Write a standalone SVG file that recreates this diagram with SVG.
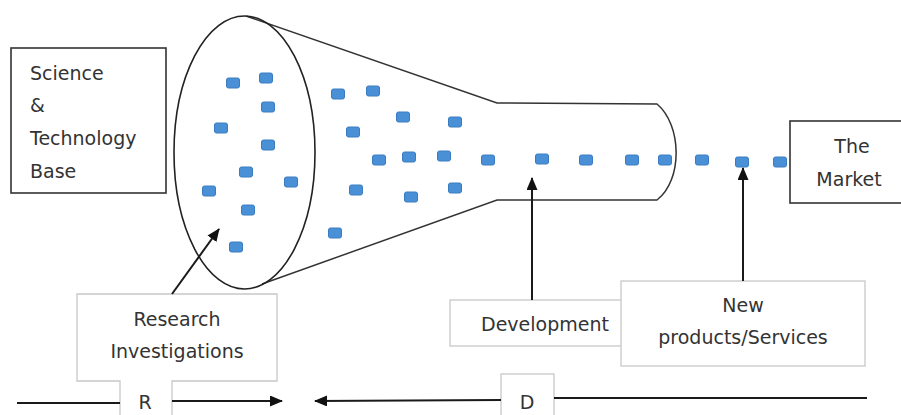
<svg xmlns="http://www.w3.org/2000/svg" width="901" height="415" viewBox="0 0 901 415">
<defs>
<style>
text{font-family:"DejaVu Sans","Liberation Sans",Arial,sans-serif;font-size:19px;fill:#333}
.dark{fill:#fff;stroke:#333;stroke-width:1.6}
.light{fill:#fff;stroke:#c8c8c8;stroke-width:1.3}
.sq{fill:#4a90d6;stroke:#3b7cc0;stroke-width:1}
.fun{fill:none;stroke:#333;stroke-width:1.5}
.con{fill:none;stroke:#1a1a1a;stroke-width:2}
.mid{text-anchor:middle}
</style>
<marker id="ah" markerWidth="13" markerHeight="11" refX="12" refY="5.5" orient="auto" markerUnits="userSpaceOnUse">
<path d="M0,0 L13,5.5 L0,11 Z" fill="#111"/>
</marker>
<rect id="b" width="13" height="10" rx="2" class="sq"/>
</defs>
<rect width="901" height="415" fill="#fff"/>

<g id="funnel">
<path class="fun" d="M246,16 L497,103 L657,104 C682,125 683,180 657,200 L497,200 L262,284"/>
<ellipse cx="244.5" cy="152.5" rx="70.5" ry="136.5" fill="none" stroke="#222" stroke-width="1.6"/>
</g>

<g id="items">
<use href="#b" x="226.5" y="78"/>
<use href="#b" x="259.5" y="73"/>
<use href="#b" x="261.5" y="102"/>
<use href="#b" x="214.5" y="123"/>
<use href="#b" x="261.5" y="140"/>
<use href="#b" x="239.5" y="167"/>
<use href="#b" x="284.5" y="177"/>
<use href="#b" x="202.5" y="186"/>
<use href="#b" x="241.5" y="205"/>
<use href="#b" x="229.5" y="242"/>
<use href="#b" x="331.5" y="89"/>
<use href="#b" x="366.5" y="86"/>
<use href="#b" x="396.5" y="112"/>
<use href="#b" x="448.5" y="117"/>
<use href="#b" x="346.5" y="127"/>
<use href="#b" x="372.5" y="155"/>
<use href="#b" x="402.5" y="152"/>
<use href="#b" x="437.5" y="151"/>
<use href="#b" x="481.5" y="155"/>
<use href="#b" x="535.5" y="154"/>
<use href="#b" x="579.5" y="155"/>
<use href="#b" x="625.5" y="155"/>
<use href="#b" x="658.5" y="155"/>
<use href="#b" x="695.5" y="155"/>
<use href="#b" x="735.5" y="157"/>
<use href="#b" x="773.5" y="157"/>
<use href="#b" x="349.5" y="185"/>
<use href="#b" x="404.5" y="192"/>
<use href="#b" x="448.5" y="183"/>
<use href="#b" x="328.5" y="228"/>
</g>

<g id="science">
<rect class="dark" x="11" y="48" width="155" height="145"/>
<text x="30" y="80">Science</text>
<text x="30" y="112">&amp;</text>
<text x="30" y="145">Technology</text>
<text x="30" y="178">Base</text>
</g>

<g id="market">
<rect class="dark" x="790" y="121" width="120" height="82"/>
<text class="mid" x="852" y="153">The</text>
<text class="mid" x="849" y="186">Market</text>
</g>

<g id="research">
<path class="light" d="M77,294 H277 V381 H172 V420 H120 V381 H77 Z"/>
<text class="mid" x="177" y="326">Research</text>
<text class="mid" x="177" y="358">Investigations</text>
<text class="mid" x="145" y="409">R</text>
</g>

<g id="development">
<rect class="light" x="450" y="300" width="175" height="46"/>
<text class="mid" x="545" y="331">Development</text>
</g>

<g id="newproducts">
<rect class="light" x="621" y="281" width="244" height="85"/>
<text class="mid" x="743" y="312">New</text>
<text class="mid" x="743" y="344">products/Services</text>
</g>

<g id="d">
<rect class="light" x="501" y="374" width="53" height="46"/>
<text class="mid" x="527" y="409">D</text>
</g>

<g id="connectors">
<line class="con" x1="172" y1="294" x2="219" y2="229" marker-end="url(#ah)"/>
<line class="con" x1="532" y1="300" x2="532" y2="178" marker-end="url(#ah)"/>
<line class="con" x1="743" y1="281" x2="743" y2="168" marker-end="url(#ah)"/>
<line class="con" x1="17" y1="403" x2="120" y2="403"/>
<line class="con" x1="172" y1="401" x2="282" y2="401" marker-end="url(#ah)"/>
<line class="con" x1="501" y1="400" x2="315" y2="401" marker-end="url(#ah)"/>
<line class="con" x1="554" y1="398" x2="867" y2="398"/>
</g>
</svg>
